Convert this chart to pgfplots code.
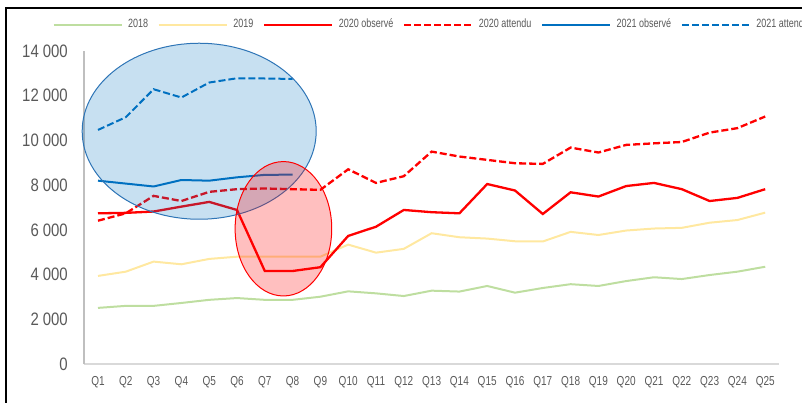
\documentclass[border=0pt]{standalone}
\usepackage{fontspec}
\setmainfont{Liberation Sans}
\newfontfamily\ytfont{Liberation Sans}[FakeStretch=0.83]
\newfontfamily\xtfont{Liberation Sans}[FakeStretch=0.77]
\newfontfamily\legfont{Liberation Sans}[FakeStretch=0.75]
\usepackage{pgfplots}
\pgfplotsset{compat=1.18}
\usepackage{pgfplotstable}
\definecolor{cgreen}{RGB}{190,222,160}
\definecolor{cyellow}{RGB}{255,232,160}
\definecolor{cred}{RGB}{255,0,0}
\definecolor{cblue}{RGB}{0,112,192}
\definecolor{cblueedge}{RGB}{46,117,182}
\definecolor{ctext}{RGB}{89,89,89}
\definecolor{cyaxis}{RGB}{191,191,191}
\definecolor{cxaxis}{RGB}{217,217,217}

\pgfplotstableread{
x  a18  a19  o20  e20
0  2510 3940 6740 6410
1  2600 4130 6760 6740
2  2600 4580 6820 7520
3  2730 4460 7040 7290
4  2870 4700 7250 7700
5  2950 4800 6890 7820
6  2870 4800 4160 7850
7  2870 4800 4160 7820
8  3010 4800 4330 7790
9  3250 5340 5730 8710
10 3160 4980 6140 8100
11 3040 5150 6890 8400
12 3280 5850 6790 9500
13 3240 5670 6740 9280
14 3490 5610 8050 9130
15 3190 5490 7760 8980
16 3400 5480 6710 8950
17 3570 5910 7680 9680
18 3490 5770 7490 9460
19 3710 5970 7960 9800
20 3880 6060 8100 9870
21 3800 6090 7820 9930
22 3980 6320 7290 10350
23 4130 6440 7430 10550
24 4350 6770 7820 11070
}\main

\pgfplotstableread{
x o21  e21
0 8200 10470
1 8070 11040
2 7940 12290
3 8230 11920
4 8200 12590
5 8350 12780
6 8460 12770
7 8470 12750
}\vingt

\begin{document}
\begin{tikzpicture}
\path[use as bounding box, clip] (0,0) rectangle (401pt,201pt);
\draw[black, line width=1pt] (2.75pt,-5pt) -- (2.75pt,196.75pt) -- (410pt,196.75pt);
\begin{axis}[
  scale only axis,
  width=347.5pt, height=156.5pt,
  at={(42.05pt,19pt)}, anchor=south west,
  xmin=-0.5, xmax=24.5, ymin=0, ymax=14000,
  clip=false,
  scaled ticks=false,
  axis x line*=bottom, axis y line*=left,
  x axis line style={draw=cxaxis, line width=0.75pt},
  y axis line style={draw=cyaxis, line width=0.75pt},
  major tick length=0pt,
  xtick={0,...,24},
  xticklabels={Q1,Q2,Q3,Q4,Q5,Q6,Q7,Q8,Q9,Q10,Q11,Q12,Q13,Q14,Q15,Q16,Q17,Q18,Q19,Q20,Q21,Q22,Q23,Q24,Q25},
  ytick={0,2000,...,14000},
  /pgf/number format/assume math mode=true,
  /pgf/number format/1000 sep={\hspace{0.22em}},
  yticklabel style={font=\ytfont\fontsize{9}{10}\selectfont, text=ctext, inner sep=0pt, xshift=-8pt},
  xticklabel style={font=\xtfont\fontsize{6.5}{7}\selectfont, text=ctext, inner sep=0pt, yshift=-6pt},
  legend columns=6,
  legend style={at={(axis description cs:-0.046,1.084)}, anchor=west, draw=none, fill=none,
    inner sep=0pt, font=\legfont\fontsize{6}{7}\selectfont, text=ctext,
    nodes={inner sep=0pt},
    /tikz/every odd column/.append style={column sep=2.8pt},
    /tikz/every even column/.append style={column sep=4.8pt}},
  legend image code/.code={\draw[#1] (0pt,0pt) -- (34pt,0pt);},
]
\addplot[cgreen, line width=1pt] table[x=x,y=a18] {\main};
\addlegendentry{2018}
\addplot[cyellow, line width=1pt] table[x=x,y=a19] {\main};
\addlegendentry{2019}
\addplot[cred, line width=1.15pt] table[x=x,y=o20] {\main};
\addlegendentry{2020 observé}
\addplot[cred, line width=1.15pt, dash pattern=on 3.5pt off 1.5pt] table[x=x,y=e20] {\main};
\addlegendentry{2020 attendu}
\addplot[cblue, line width=1pt] table[x=x,y=o21] {\vingt};
\addlegendentry{2021 observé}
\addplot[cblue, line width=1pt, dash pattern=on 3.5pt off 1.5pt] table[x=x,y=e21] {\vingt};
\addlegendentry{2021 attendu}
\fill[cblue, fill opacity=0.22] (axis cs:3.64,10411) ellipse [x radius=58.5pt, y radius=44pt];
\draw[cblueedge, line width=0.5pt] (axis cs:3.64,10411) ellipse [x radius=58.5pt, y radius=44pt];
\fill[cred, fill opacity=0.25] (axis cs:6.67,6049) ellipse [x radius=24.15pt, y radius=33.6pt];
\draw[cred, line width=0.5pt] (axis cs:6.67,6049) ellipse [x radius=24.15pt, y radius=33.6pt];
\end{axis}
\end{tikzpicture}
\end{document}
